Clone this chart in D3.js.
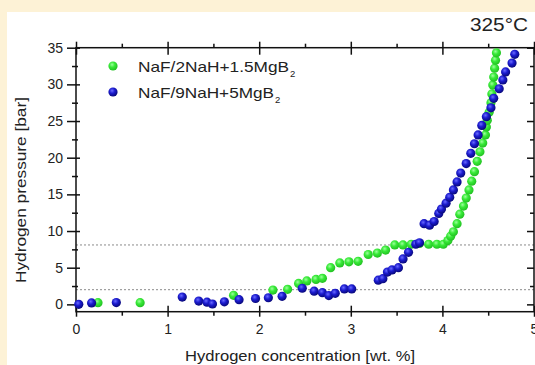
<!DOCTYPE html>
<html>
<head>
<meta charset="utf-8">
<script src="https://cdn.jsdelivr.net/npm/d3@7"></script>
<style>
  html, body { margin: 0; padding: 0; background: #fdf2d6; }
  svg { display: block; }
  text { font-family: "Liberation Sans", Arial, sans-serif; fill: #222; }
</style>
</head>
<body>
<svg id="chart" width="535" height="365"></svg>
<script>
// Pressure–composition isotherm at 325 °C
const seriesNames = ["NaF/2NaH+1.5MgB", "NaF/9NaH+5MgB"];

const greenX = [0.24, 0.70, 1.72, 2.15, 2.31, 2.43, 2.52, 2.62, 2.69, 2.78, 2.88, 2.98, 3.08,
  3.19, 3.29, 3.38, 3.48, 3.57, 3.66, 3.75, 3.85, 3.94, 4.01, 4.06, 4.09, 4.12, 4.16, 4.19,
  4.23, 4.26, 4.29, 4.32, 4.35, 4.38, 4.41, 4.44, 4.47, 4.48, 4.49, 4.51, 4.53, 4.54, 4.55,
  4.56, 4.57, 4.58, 4.59];
const greenY = [0.23, 0.23, 1.23, 1.95, 2.05, 2.85, 3.2, 3.4, 3.55, 5.0, 5.65, 5.8, 5.87,
  6.8, 7.0, 7.4, 8.1, 8.1, 8.2, 8.3, 8.2, 8.2, 8.2, 8.7, 9.3, 9.9, 11.0, 12.3,
  13.4, 14.5, 15.6, 16.8, 18.1, 19.5, 20.8, 22.0, 23.1, 24.2, 25.1, 26.2, 27.5, 28.7, 29.9,
  31.0, 32.2, 33.3, 34.3];

const blueX = [0.03, 0.17, 0.44, 1.16, 1.34, 1.43, 1.49, 1.62, 1.78, 1.96, 2.10, 2.25, 2.47,
  2.60, 2.69, 2.76, 2.83, 2.93, 3.01, 3.30, 3.35, 3.40, 3.45, 3.52, 3.57, 3.63, 3.71, 3.75,
  3.80, 3.86, 3.91, 3.96, 3.99, 4.04, 4.08, 4.12, 4.16, 4.20, 4.26, 4.31, 4.35, 4.39, 4.43,
  4.48, 4.53, 4.56, 4.62, 4.66, 4.69, 4.76, 4.79];
const blueY = [0.0, 0.2, 0.25, 1.0, 0.45, 0.3, 0.05, 0.35, 0.64, 0.8, 0.9, 1.1, 2.2,
  1.8, 1.6, 1.2, 1.5, 2.1, 2.1, 3.3, 3.5, 4.4, 4.7, 5.0, 6.2, 7.1, 8.2, 8.4,
  11.0, 10.8, 11.3, 12.4, 13.0, 13.8, 14.6, 15.6, 16.7, 17.9, 19.2, 20.6, 21.9, 23.1, 24.4,
  25.6, 26.8, 28.1, 29.4, 30.6, 31.7, 32.9, 34.1];

const xMajor = [0, 1, 2, 3, 4, 5];
const xMinor = [0.5, 1.5, 2.5, 3.5, 4.5];
const yMajor = [0, 5, 10, 15, 20, 25, 30, 35];
const yMinor = [2.5, 7.5, 12.5, 17.5, 22.5, 27.5, 32.5];
const plateaus = [8.1, 2.0];

const svg = d3.select("#chart");

// white panel over the cream page
svg.append("rect").attr("x", 7).attr("y", 12).attr("width", 528).attr("height", 353).attr("fill", "#fff");

const x = d3.scaleLinear().domain([0, 5]).range([76, 534]);
const y = d3.scaleLinear().domain([-1, 35]).range([311.7, 47.7]);

// sphere-like marker fills
const defs = svg.append("defs");
function ball(id, hi, mid, edge) {
  const g = defs.append("radialGradient").attr("id", id)
    .attr("cx", "40%").attr("cy", "35%").attr("r", "65%");
  g.append("stop").attr("offset", "0%").attr("stop-color", hi);
  g.append("stop").attr("offset", "45%").attr("stop-color", mid);
  g.append("stop").attr("offset", "100%").attr("stop-color", edge);
}
ball("gBall", "#9dff9d", "#38ea38", "#22c022");
ball("bBall", "#6a6aff", "#1c1cd0", "#08087a");

// dotted plateau guides
svg.append("g").selectAll("line").data(plateaus).join("line")
  .attr("x1", x(0)).attr("x2", x(5))
  .attr("y1", d => y(d)).attr("y2", d => y(d))
  .attr("stroke", "#8a8a8a").attr("stroke-width", 1).attr("stroke-dasharray", "2,2");

// axes
function styleAxis(g) {
  g.select(".domain").remove();
  g.selectAll("line").attr("stroke", "#111").attr("stroke-width", 1.5);
  g.selectAll("text").attr("fill", "#222").style("font-size", "14px")
    .style("font-family", "'Liberation Sans', Arial, sans-serif");
}

const axBottom = svg.append("g").attr("transform", `translate(0,${y(-1)})`)
  .call(d3.axisBottom(x).tickValues(xMajor).tickSize(5).tickPadding(7).tickFormat(d3.format("d")));
styleAxis(axBottom);
axBottom.selectAll(".tick line").attr("y1", -6).attr("y2", 5);
const axBottomMinor = svg.append("g").attr("transform", `translate(0,${y(-1)})`)
  .call(d3.axisBottom(x).tickValues(xMinor).tickSize(4).tickFormat(""));
styleAxis(axBottomMinor);

const axTop = svg.append("g").attr("transform", `translate(0,${y(35)})`)
  .call(d3.axisTop(x).tickValues(xMajor).tickSize(6).tickFormat(""));
styleAxis(axTop);
axTop.selectAll(".tick line").attr("y1", 7).attr("y2", -6);
const axTopMinor = svg.append("g").attr("transform", `translate(0,${y(35)})`)
  .call(d3.axisTop(x).tickValues(xMinor).tickSize(4).tickFormat(""));
styleAxis(axTopMinor);

const axLeft = svg.append("g").attr("transform", `translate(${x(0)},0)`)
  .call(d3.axisLeft(y).tickValues(yMajor).tickSize(9).tickPadding(4).tickFormat(d3.format("d")));
styleAxis(axLeft);
axLeft.selectAll(".tick line").attr("x1", 4).attr("x2", -9);
const axLeftMinor = svg.append("g").attr("transform", `translate(${x(0)},0)`)
  .call(d3.axisLeft(y).tickValues(yMinor).tickSize(4).tickFormat(""));
styleAxis(axLeftMinor);
axLeftMinor.selectAll(".tick line").attr("x1", 2).attr("x2", -4);

const axRight = svg.append("g").attr("transform", `translate(${x(5)},0)`)
  .call(d3.axisRight(y).tickValues(yMajor).tickSize(-7).tickFormat(""));
styleAxis(axRight);
const axRightMinor = svg.append("g").attr("transform", `translate(${x(5)},0)`)
  .call(d3.axisRight(y).tickValues(yMinor).tickSize(-4).tickFormat(""));
styleAxis(axRightMinor);

// frame
svg.append("rect").attr("x", x(0)).attr("y", y(35))
  .attr("width", x(5) - x(0)).attr("height", y(-1) - y(35))
  .attr("fill", "none").attr("stroke", "#111").attr("stroke-width", 1.5);

// data points
const green = greenX.map((v, i) => ({ x: v, y: greenY[i] }));
const blue = blueX.map((v, i) => ({ x: v, y: blueY[i] }));
const R = 4.6;

svg.append("g").selectAll("circle").data(green).join("circle")
  .attr("cx", d => x(d.x)).attr("cy", d => y(d.y)).attr("r", R)
  .attr("fill", "url(#gBall)");
svg.append("g").selectAll("circle").data(blue).join("circle")
  .attr("cx", d => x(d.x)).attr("cy", d => y(d.y)).attr("r", R)
  .attr("fill", "url(#bBall)");

// legend (wide, Arial-like lettering)
const legend = svg.append("g");
const legendFills = ["url(#gBall)", "url(#bBall)"];
const legendWidths = [151, 136];
seriesNames.forEach((name, i) => {
  const cy = 66 + i * 26;
  legend.append("circle").attr("cx", 113).attr("cy", cy).attr("r", R).attr("fill", legendFills[i]);
  legend.append("text").attr("x", 138).attr("y", cy + 6)
    .attr("textLength", legendWidths[i]).attr("lengthAdjust", "spacingAndGlyphs")
    .style("font-size", "15px").text(name);
  legend.append("text").attr("x", 138 + legendWidths[i] + 1).attr("y", cy + 11)
    .style("font-size", "9.5px").text("2");
});

// temperature tag
svg.append("text").attr("x", 470).attr("y", 31)
  .attr("textLength", 58).attr("lengthAdjust", "spacingAndGlyphs")
  .style("font-size", "18px").text("325°C");

// axis titles
svg.append("text").attr("x", 185).attr("y", 361)
  .attr("textLength", 230).attr("lengthAdjust", "spacingAndGlyphs")
  .style("font-size", "15px").text("Hydrogen concentration [wt. %]");
svg.append("text").attr("transform", "translate(26,283) rotate(-90)")
  .attr("textLength", 186).attr("lengthAdjust", "spacingAndGlyphs")
  .style("font-size", "15px").text("Hydrogen pressure [bar]");
</script>
</body>
</html>
